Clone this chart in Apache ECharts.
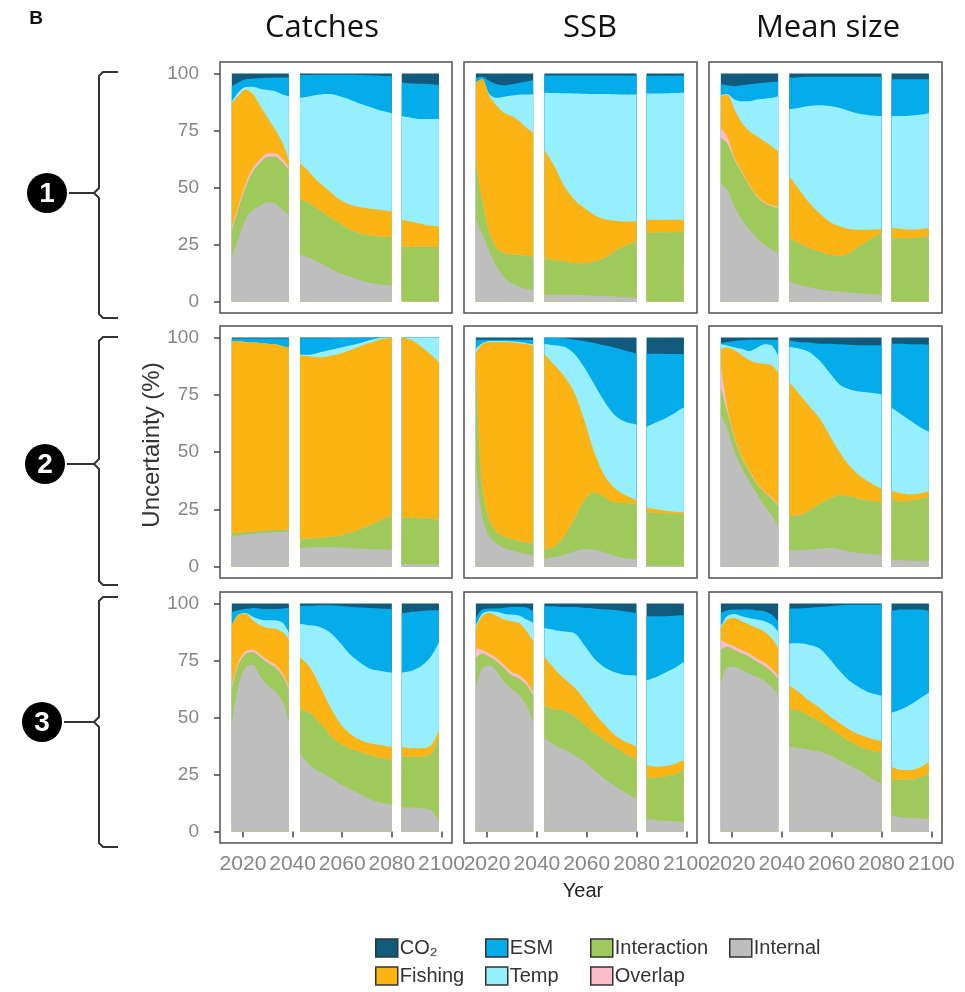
<!DOCTYPE html>
<html><head><meta charset="utf-8">
<script src="https://cdn.jsdelivr.net/npm/echarts/dist/echarts.min.js"></script>
<style>html,body{margin:0;padding:0;background:#fff}#c{width:965px;height:992px}</style>
</head><body><div id="c"></div>
<script>
// x positions (years); null entries mark the white gaps between the three periods
const years = [2015.5,2018,2021,2024,2027,2030,2033,2036,2038.5, 2040.5, 2043,2047,2051,2055,2059,2063,2067,2071,2075,2080, 2082, 2084,2088,2092,2096,2099];
const xTicks = [2020,2040,2060,2080,2100];
const yTicks = [0,25,50,75,100];
const colTitles = ['Catches','SSB','Mean size'];
const rowLabels = ['1','2','3'];

// Upper edge (cumulative %) of each band, bottom-to-top: internal, interaction, overlap, fishing, temp, esm, co2
const top100 = [100,100,100,100,100,100,100,100,100, null, 100,100,100,100,100,100,100,100,100,100, null, 100,100,100,100,100];

// Row 1 - Catches
const r1c_internal    = [20,27,36,40,42,43.5,43,40,38, null, 20.5,19,17,14.6,12.4,11,9.5,8.3,7.6,7, null, 0,0,0,0,0];
const r1c_interaction = [31,40,50,57,61,63.5,63.5,61,58, null, 45,43,40,37,34.4,31.5,30,29,28.5,28.3, null, 24,24,24,24,24];
const r1c_overlap     = [32.5,41.5,51.5,58.5,62.5,65,65,62.5,59, null, 45,43,40,37,34.4,31.5,30,29,28.5,28.3, null, 24,24,24,24,24];
const r1c_fishing     = [87,90,93,91,85.6,80.5,75.4,69.5,62, null, 60.8,56.4,52,48.3,44.7,42.5,41.4,40.7,40.3,39.5, null, 35.9,35,34,33.2,33];
const r1c_temp        = [87.5,91.5,94,94.2,93.3,92.7,92.2,90.8,90, null, 89.3,90,90.8,91,90,88.6,86.8,85.4,83.9,82.7, null, 81.3,80.5,80,80,80];
const r1c_esm         = [94.4,95.9,97.4,97.7,98,98.1,98.2,98.2,98.2, null, 99.3,99.3,99.4,99.4,99.4,99.4,99.3,99.2,99,98.8, null, 96,95.6,95.5,95.3,95];
// Row 1 - SSB
const r1s_internal    = [36,30,22,15,10.5,8,6.5,5.5,5, null, 3,3,3,3,2.8,2.6,2.4,2.2,2,1.5, null, 0,0,0,0,0];
const r1s_interaction = [60.8,44.7,30,23.4,21.2,20.5,20.5,20,19.8, null, 19,18.3,17.6,16.8,16.8,17.6,19,22,24.2,26.4, null, 30,30.3,30.4,30.5,30.7];
const r1s_overlap     = [60.8,44.7,30,23.4,21.2,20.5,20.5,20,19.8, null, 19,18.3,17.6,16.8,16.8,17.6,19,22,24.2,26.4, null, 30,30.3,30.4,30.5,30.7];
const r1s_fishing     = [96,97.5,90,85.7,82.7,81.3,79,76,74, null, 66.6,59.3,50.5,44.7,41,38,36.2,35.4,35.1,35.1, null, 35.9,35.9,35.9,35.9,35.9];
const r1s_temp        = [96,97.5,90.8,89.3,89.8,90.3,90.8,90.8,90.8, null, 91.5,91.4,91.3,91.2,91.1,91,91,90.9,90.8,90.8, null, 91.2,91.2,91.3,91.4,91.5];
const r1s_esm         = [98,98.5,96.6,95.2,94.7,95.2,95.9,96.5,97, null, 99.1,99.1,99.1,99.1,99.1,99.1,99.1,99.1,99.1,99.1, null, 99,99,99,99,99];
// Row 1 - Mean size
const r1m_internal    = [52,49,41.7,35.9,31.5,27.8,24.9,22.7,21.2, null, 8.8,7.3,6.3,5.4,4.8,4.4,4,3.7,3.4,2.9, null, 0,0,0,0,0];
const r1m_interaction = [71.7,69.5,62.2,56.4,50.5,46,43.2,41.7,41, null, 27.8,25.6,23.4,22,20.5,20,21.2,24.2,27,30, null, 27.8,27.8,27.8,28.2,28.5];
const r1m_overlap     = [76,72.5,63,57,51,46.5,43.7,42.2,41.5, null, 27.8,25.6,23.4,22,20.5,20,21.2,24.2,27,30, null, 27.8,27.8,27.8,28.2,28.5];
const r1m_fishing     = [90,90.8,84.2,78.3,74.7,72.5,70.3,68,65.9, null, 54.9,49,43.2,38.8,35.1,33,31.8,31.5,31.5,31.8, null, 32.2,31.8,31.5,31.8,32.2];
const r1m_temp        = [90.5,91,88.6,87.8,87.8,88.6,88.9,89.3,90, null, 84.2,84.9,85.7,86,85.7,84.9,83.5,82.3,81.7,81.3, null, 81.3,81.3,81.6,82,82.7];
const r1m_esm         = [95.2,94.8,94.4,94.8,95.2,95.6,95.9,96.2,96.5, null, 98,98.3,98.5,98.5,98.5,98.5,98.5,98.5,98.5,98.5, null, 97.4,97.4,97.4,97.4,97.4];
// Row 2 - Catches
const r2c_internal    = [13.3,13.5,14,14.2,14.7,14.8,15,15.2,15.5, null, 8.1,8.3,8.4,8.4,8.3,8.1,7.8,7.7,7.4,7.4, null, 1,1,1,1,1];
const r2c_interaction = [14.5,14.7,15,15.2,15.5,15.7,15.9,16,16.2, null, 11.8,12.2,12.5,12.9,13.6,14.7,16.2,18,19.9,22.1, null, 21.4,21.3,21.1,20.9,20.6];
const r2c_overlap     = [14.5,14.7,15,15.2,15.5,15.7,15.9,16,16.2, null, 11.8,12.2,12.5,12.9,13.6,14.7,16.2,18,19.9,22.1, null, 21.4,21.3,21.1,20.9,20.6];
const r2c_fishing     = [98.5,98.4,98,97.9,97.6,97.3,97,96.2,95.6, null, 92.2,91.7,91.3,91.9,92.9,94.4,96,97.6,99,100, null, 100,98.8,95.9,92.2,89.2];
const r2c_temp        = [98.5,98.4,98,97.9,97.6,97.3,97,96.2,95.6, null, 92.5,92.5,93.5,94.5,95.5,96.5,97.5,98.8,99.8,100, null, 100,100,100,100,100];
const r2c_esm         = [99.5,99.5,99.5,99.5,99.5,99.5,99.5,99.5,99.5, null, 99.7,99.7,99.7,99.7,99.8,99.8,99.9,100,100,100, null, 100,100,100,100,100];
// Row 2 - SSB
const r2s_internal    = [45,22,13,10,8,7,6,5.5,5, null, 3.7,4.2,5.2,6.6,7.7,7.4,6.2,4.7,3.7,3, null, 0.5,0.5,0.5,0.5,0.5];
const r2s_interaction = [88,35,20,15,13,12,11,10.5,10, null, 7.4,8.8,13.3,20.6,28.8,32.4,30.2,28,27.7,27.3, null, 23.6,23.4,23.2,23,22.9];
const r2s_overlap     = [88,35,20,15,13,12,11,10.5,10, null, 7.4,8.8,13.3,20.6,28.8,32.4,30.2,28,27.7,27.3, null, 23.6,23.4,23.2,23,22.9];
const r2s_fishing     = [93,97,98,98,98,97.8,97.5,97,96.5, null, 92.8,88,83,76,64,50,40,34.5,31.5,29, null, 25.8,25,24.3,23.9,23.6];
const r2s_temp        = [95,97.5,98.5,98.5,98.5,98.3,98,97.5,97, null, 97.3,96.6,95.9,92.9,87,79.6,72.3,66.4,63.4,62, null, 61,63,65,67.5,69.5];
const r2s_esm         = [99,99,99,99,99,99,99,99,99, null, 100,99.8,99.6,99,98.5,97.6,96.6,95.6,94.4,92.9, null, 92.9,92.9,92.8,92.8,92.7];
// Row 2 - Mean size
const r2m_internal    = [66.4,60.5,50,42.8,36.9,31.7,26.5,22.1,17.7, null, 7.4,7,7.4,7.8,8.1,7.7,6.6,5.9,5.5,5.2, null, 3,2.8,2.6,2.4,2.2];
const r2m_interaction = [78,67.8,56,47.2,41.3,36.1,32.4,29.5,26.5, null, 22.1,22.4,24.3,27.3,29.5,31,30.7,29.5,28.8,28, null, 29.5,28.3,28.8,29.5,30.2];
const r2m_overlap     = [88,70,56.8,47.8,41.8,36.6,32.9,30,27, null, 22.1,22.4,24.3,27.3,29.5,31,30.7,29.5,28.8,28, null, 29.5,28.3,28.8,29.5,30.2];
const r2m_fishing     = [95,95.6,94.4,92.2,90,88.8,88.5,87.8,84.8, null, 80.4,75.2,70,64.9,57.5,50.1,44.2,39.8,36.9,33.9, null, 33,32,31.5,32,33];
const r2m_temp        = [97,96.5,95.6,95,94,95.5,97,96.5,92, null, 95.9,95.1,93.7,90,84.8,79.6,77.4,76.4,76,75.2, null, 69.3,66.4,63.4,60.5,59];
const r2m_esm         = [97.5,98,98.5,98.8,99,99,99,99,99, null, 98.8,98,97.8,97.3,97.3,97,96.8,96.6,96.6,96.6, null, 97.3,97.3,97,97,96.8];
// Row 3 - Catches
const r3c_internal    = [47,63,72,73,68,64,61.5,57,48, null, 34.3,29.1,26.1,23.9,21,18.8,16.5,14.3,12.9,11.8, null, 10.6,10.6,10.3,9.2,4.7];
const r3c_interaction = [62.3,72.7,77.8,78.6,76.4,74,72,68.2,62.3, null, 53.5,52,47.6,42.4,38.7,36.5,35,33.5,32.5,31.3, null, 32.8,32.8,32.8,34.3,41.7];
const r3c_overlap     = [63.5,74,79,79.8,77.6,75.2,73.2,69.4,63.5, null, 53.5,52,47.6,42.4,38.7,36.5,35,33.5,32.5,31.3, null, 32.8,32.8,32.8,34.3,41.7];
const r3c_fishing     = [90.4,94.8,95.6,92.6,90.4,89.2,88.9,87.4,84.5, null, 76.4,72,63.8,55,47.6,43.1,40.2,38.7,38,37.2, null, 37.2,36.5,36.5,38,44.6];
const r3c_temp        = [90.4,95,95.8,94.2,93,92.6,92.6,91.5,87.4, null, 91.1,90.4,89.7,87.4,83,77.8,74.2,71.5,70.5,69.7, null, 69.7,70.5,72.7,77.1,83];
const r3c_esm         = [96.3,97,97.5,98,97.8,97.5,97.5,97.8,98, null, 99,99,99.2,99.2,99,98.5,98.2,98,97.8,97.5, null, 95.6,96.3,96.7,97,97];
// Row 3 - SSB
const r3s_internal    = [62.5,71.4,72.9,70,65.5,62.5,59.6,55,47.7, null, 41,38,35.9,33.6,30.7,27,23.3,20.3,17.3,14.4, null, 5.5,5.1,4.7,4.4,4];
const r3s_interaction = [75.9,78,76.6,74.4,71.4,68.4,67,64,59.6, null, 55,53.6,52.9,50.7,47,43.3,40.3,37.3,34.4,31.4, null, 23.3,23.7,24.3,25.5,27];
const r3s_overlap     = [80.3,79.6,78.1,75.9,72.9,69.9,68.5,65.5,61.1, null, 55,53.6,52.9,50.7,47,43.3,40.3,37.3,34.4,31.4, null, 23.3,23.7,24.3,25.5,27];
const r3s_fishing     = [89.2,94.4,95.9,94.4,92.9,92.1,91.4,87.7,83.3, null, 76.6,71.4,67,63.3,58,52.1,47,42.5,39.6,37.3, null, 29.2,28.4,28.7,30,31.4];
const r3s_temp        = [90,95.5,96.6,96.3,95.4,95.1,94.6,92.9,91.4, null, 89.2,88.4,87.7,87,81.8,75.9,72.1,69.9,68.7,68.4, null, 66.2,67.7,69.9,72.1,74.4];
const r3s_esm         = [93.6,97.3,97.8,97.8,98.1,98.4,98.4,98.1,96.6, null, 98.8,98.8,98.4,98.4,98.1,97.8,97.4,97.1,96.6,95.9, null, 94.4,94.4,94.4,94.7,94.8];
// Row 3 - Mean size
const r3m_internal    = [64,72.1,72.1,70.7,69.2,67.7,66.2,63.3,60.3, null, 37.3,36.6,35.9,35.1,33.6,31.4,29.2,27,24,21, null, 7,6.3,6,5.8,5.5];
const r3m_interaction = [79.6,81,79.6,78,76.6,74.4,72.6,69.9,67, null, 53.6,52.9,50.7,48.4,45.5,42.5,39.6,37.3,35.9,34.4, null, 22.5,22.8,22.8,24,25.5];
const r3m_overlap     = [84,82.5,81.1,79.5,78.1,75.9,74.1,71.4,68.5, null, 53.6,52.9,50.7,48.4,45.5,42.5,39.6,37.3,35.9,34.4, null, 22.5,22.8,22.8,24,25.5];
const r3m_fishing     = [89.2,92.9,93.6,92.1,90.7,89.2,87.7,84.7,80.3, null, 64,61,57.3,54.4,50.7,47.7,44.7,42.5,41,39.6, null, 28.4,27,27,28.4,30.7];
const r3m_temp        = [90,94.4,95.4,94.4,93.6,92.9,92.2,90.7,87.7, null, 82.5,82.5,81.8,80.3,75.9,70.7,66.2,63.3,61,59.6, null, 52.1,53.6,55.9,58.8,61];
const r3m_esm         = [95.9,96.9,97.3,97.3,97.3,96.9,96.6,95,92.1, null, 97.8,97.8,98.1,98.4,98.8,99.2,99.4,99.4,99.4,99.4, null, 96.6,97.3,97.3,97.3,96.6];

const layers = [
  {key:'co2',         name:'CO₂',         color:'#115a7c'},
  {key:'esm',         name:'ESM',         color:'#05acea'},
  {key:'temp',        name:'Temp',        color:'#95effc'},
  {key:'fishing',     name:'Fishing',     color:'#fcb415'},
  {key:'overlap',     name:'Overlap',     color:'#f8bccb'},
  {key:'interaction', name:'Interaction', color:'#9dca5b'},
  {key:'internal',    name:'Internal',    color:'#bebebe'}
];

const panels = [
  {row:0,col:0,d:{internal:r1c_internal,interaction:r1c_interaction,overlap:r1c_overlap,fishing:r1c_fishing,temp:r1c_temp,esm:r1c_esm,co2:top100}},
  {row:0,col:1,d:{internal:r1s_internal,interaction:r1s_interaction,overlap:r1s_overlap,fishing:r1s_fishing,temp:r1s_temp,esm:r1s_esm,co2:top100}},
  {row:0,col:2,d:{internal:r1m_internal,interaction:r1m_interaction,overlap:r1m_overlap,fishing:r1m_fishing,temp:r1m_temp,esm:r1m_esm,co2:top100}},
  {row:1,col:0,d:{internal:r2c_internal,interaction:r2c_interaction,overlap:r2c_overlap,fishing:r2c_fishing,temp:r2c_temp,esm:r2c_esm,co2:top100}},
  {row:1,col:1,d:{internal:r2s_internal,interaction:r2s_interaction,overlap:r2s_overlap,fishing:r2s_fishing,temp:r2s_temp,esm:r2s_esm,co2:top100}},
  {row:1,col:2,d:{internal:r2m_internal,interaction:r2m_interaction,overlap:r2m_overlap,fishing:r2m_fishing,temp:r2m_temp,esm:r2m_esm,co2:top100}},
  {row:2,col:0,d:{internal:r3c_internal,interaction:r3c_interaction,overlap:r3c_overlap,fishing:r3c_fishing,temp:r3c_temp,esm:r3c_esm,co2:top100}},
  {row:2,col:1,d:{internal:r3s_internal,interaction:r3s_interaction,overlap:r3s_overlap,fishing:r3s_fishing,temp:r3s_temp,esm:r3s_esm,co2:top100}},
  {row:2,col:2,d:{internal:r3m_internal,interaction:r3m_interaction,overlap:r3m_overlap,fishing:r3m_fishing,temp:r3m_temp,esm:r3m_esm,co2:top100}}
];

const gLeft = [220, 464, 709], gWidth = [232, 233, 233];
const gTop = [62, 326, 592], gHeight = [251, 252, 251];
const FONT = 'Liberation Sans, Arial, sans-serif';

const grid = [], xAxis = [], yAxis = [], series = [];
panels.forEach((p, i) => {
  grid.push({left:gLeft[p.col], top:gTop[p.row], width:gWidth[p.col], height:gHeight[p.row],
    show:true, borderColor:'#505050', borderWidth:1.5, backgroundColor:'#fff'});
  xAxis.push({type:'value', gridIndex:i, min:2010.75, max:2104.25,
    splitLine:{show:false}, axisLine:{show:false},
    axisTick:{show:p.row===2, length:6, lineStyle:{color:'#444', width:1.5}, customValues:xTicks},
    axisLabel:{show:p.row===2, customValues:xTicks, fontSize:21, color:'#868686', fontFamily:FONT, margin:11,
      hideOverlap:false, showMinLabel:true, showMaxLabel:true, formatter:v => String(Math.round(v))}});
  yAxis.push({type:'value', gridIndex:i, min:-5, max:105,
    splitLine:{show:false}, axisLine:{show:false},
    axisTick:{show:p.col===0, length:6, lineStyle:{color:'#444', width:1.5}, customValues:yTicks},
    axisLabel:{show:p.col===0, customValues:yTicks, fontSize:19, color:'#868686', fontFamily:FONT, margin:21}});
  layers.forEach(L => {
    const arr = p.d[L.key];
    series.push({type:'line', name:L.name, xAxisIndex:i, yAxisIndex:i,
      data: years.map((x,k) => [x, arr[k]]),
      smooth:0.3, symbol:'none', showSymbol:false, connectNulls:false,
      lineStyle:{width:0}, itemStyle:{color:L.color}, color:L.color,
      areaStyle:{color:L.color, opacity:1}, silent:true, animation:false});
  });
});

const legendCommon = {orient:'vertical', padding:0, itemWidth:22, itemHeight:18, itemGap:8, icon:'rect', selectedMode:false,
  itemStyle:{borderColor:'#333', borderWidth:1.5},
  textStyle:{fontSize:20, color:'#333', fontFamily:FONT, padding:[0,0,0,-3]}};
const legend = [
  Object.assign({data:['CO₂','Fishing'], left:375, top:938}, legendCommon),
  Object.assign({data:['ESM','Temp'], left:485, top:938}, legendCommon),
  Object.assign({data:['Interaction','Overlap'], left:590, top:938}, legendCommon),
  Object.assign({data:['Internal'], left:729, top:938}, legendCommon)
];

const graphic = [];
graphic.push({type:'text', x:36, y:19, style:{text:'B', fontSize:19, fontWeight:'bold', fontFamily:FONT, fill:'#111', align:'center', verticalAlign:'middle'}});
const titleX = [322, 590, 828];
colTitles.forEach((t, c) => graphic.push({type:'text', x:titleX[c], y:28,
  style:{text:t, fontSize:31, fontFamily:'Open Sans, sans-serif', fill:'#111', align:'center', verticalAlign:'middle'}}));
const brackets = [{t:72,m:193,b:318,cx:47},{t:337,m:464,b:585,cx:45},{t:597,m:722,b:847,cx:42}];
brackets.forEach((br, r) => {
  graphic.push({type:'circle', shape:{cx:br.cx, cy:br.m, r:20}, style:{fill:'#000'}});
  graphic.push({type:'text', x:br.cx, y:br.m+1, style:{text:rowLabels[r], fontSize:28, fontWeight:'bold', fontFamily:FONT, fill:'#fff', align:'center', verticalAlign:'middle'}});
  graphic.push({type:'line', shape:{x1:br.cx+22, y1:br.m, x2:94, y2:br.m}, style:{stroke:'#333', lineWidth:2}});
  graphic.push({type:'polyline', shape:{points:[[118,br.t],[103,br.t],[99,br.t+4],[99,br.m-5],[94,br.m],[99,br.m+5],[99,br.b-4],[103,br.b],[118,br.b]]},
    style:{stroke:'#333', lineWidth:2, fill:null}});
});
graphic.push({type:'text', x:152, y:445, rotation:Math.PI/2, style:{text:'Uncertainty (%)', fontSize:24, fontFamily:FONT, fill:'#333', align:'center', verticalAlign:'middle'}});
graphic.push({type:'text', x:583, y:891, style:{text:'Year', fontSize:20, fontFamily:FONT, fill:'#222', align:'center', verticalAlign:'middle'}});

const chart = echarts.init(document.getElementById('c'), null, {renderer:'canvas', width:965, height:992});
chart.setOption({animation:false, backgroundColor:'#fff', grid, xAxis, yAxis, series, legend, graphic});
</script>
</body></html>
